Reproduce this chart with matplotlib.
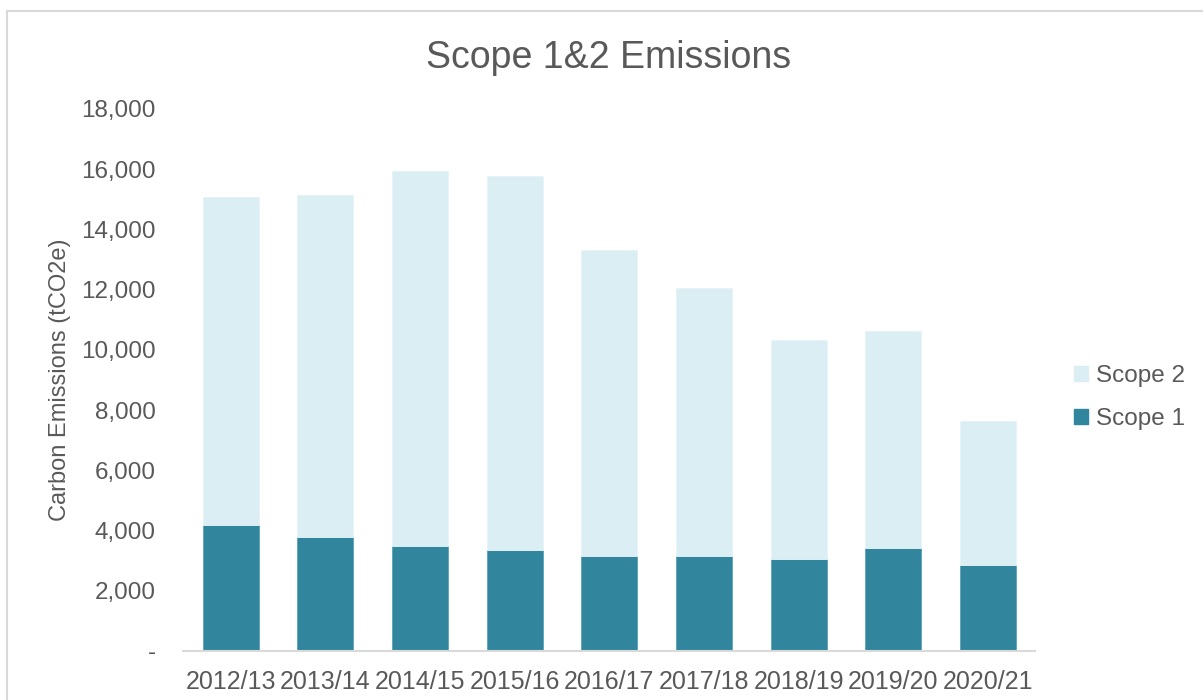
import matplotlib.pyplot as plt
import numpy as np
from matplotlib.lines import Line2D
from matplotlib.patches import Patch
from matplotlib.ticker import FuncFormatter

years = ["2012/13", "2013/14", "2014/15", "2015/16", "2016/17",
         "2017/18", "2018/19", "2019/20", "2020/21"]
scope1 = [4190, 3800, 3480, 3360, 3170, 3170, 3070, 3410, 2840]
totals = [15070, 15160, 15950, 15770, 13320, 12070, 10330, 10640, 7650]
scope2 = [t - s for t, s in zip(totals, scope1)]

dark = "#31859c"
light = "#daeef3"
text_color = "#595959"

plt.rcParams["font.family"] = ["Liberation Sans", "DejaVu Sans"]

fig = plt.figure(figsize=(12.03, 7.0), dpi=100)
ax = fig.add_axes([0.1525, 0.07, 0.708, 0.7743])

x = np.arange(len(years))
ax.bar(x, scope1, width=0.59, color=dark, edgecolor="#5ba3b8", linewidth=0.6)
ax.bar(x, scope2, width=0.59, bottom=scope1, color=light,
       edgecolor="#e6f3f7", linewidth=0.6)

ax.set_xlim(-0.5, len(years) - 0.5)
ax.set_ylim(0, 18000)
ax.set_yticks(np.arange(0, 18001, 2000))
ax.yaxis.set_major_formatter(
    FuncFormatter(lambda v, p: "-" if v == 0 else f"{v:,.0f}"))
ax.set_xticks(x)
ax.set_xticklabels(years)

for side in ["top", "right", "left"]:
    ax.spines[side].set_visible(False)
ax.spines["bottom"].set_color("#d9d9d9")
ax.spines["bottom"].set_linewidth(1.5)

ax.tick_params(axis="both", length=0, colors=text_color)
ax.tick_params(axis="y", labelsize=17.5, pad=20)
ax.tick_params(axis="x", labelsize=18, pad=14)

ax.set_ylabel("Carbon Emissions (tCO2e)", fontsize=17, color=text_color,
              labelpad=7)
fig.text(0.506, 0.917, "Scope 1&2 Emissions", fontsize=27, color=text_color,
         ha="center", va="center")

handles = [Patch(facecolor=light, edgecolor=light, label="Scope 2"),
           Patch(facecolor=dark, edgecolor=dark, label="Scope 1")]
leg = fig.legend(handles=handles, loc="center left",
                 bbox_to_anchor=(0.8745, 0.432), frameon=False, fontsize=17.5,
                 handlelength=0.6, handleheight=0.6, handletextpad=0.3,
                 labelspacing=0.85)
for t in leg.get_texts():
    t.set_color(text_color)

# light frame around the chart area, running off the image edge
fig.add_artist(Line2D([0.0055, 0.0055], [0.0, 0.984], color="#d9d9d9",
                      linewidth=1.5, transform=fig.transFigure))
fig.add_artist(Line2D([0.0055, 1.0], [0.984, 0.984], color="#d9d9d9",
                      linewidth=1.5, transform=fig.transFigure))

fig.savefig("out.png", dpi=100)
